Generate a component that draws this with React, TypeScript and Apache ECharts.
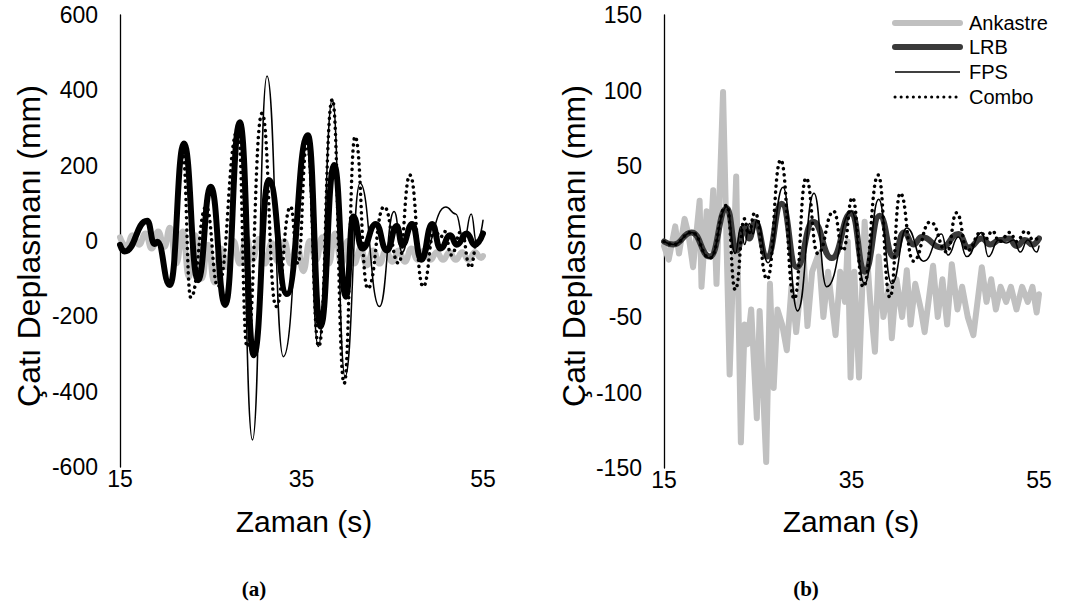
import React, { useEffect, useRef } from "react";
import * as echarts from "echarts";

// ---- Panel (a) data: [time (s), roof displacement (mm)] ----
const ankastreA: [number, number][] = [
  [15, 10], [15.7, -15], [16.4, 15], [17.1, -10], [17.8, 20], [18.5, -20], [19.2, 25], [19.9, -15],
  [20.5, 35], [21.2, -60], [21.9, 25], [22.6, -95], [23.3, 15], [24.0, -100], [24.7, -10], [25.4, -110],
  [26.1, -20], [26.8, -70], [27.5, 0], [28.2, -60], [28.9, 10], [29.6, -50], [30.3, 5], [31.0, -60],
  [31.7, -5], [32.4, -55], [33.1, 0], [33.8, -60], [34.5, -10], [35.2, -80], [35.9, 0], [36.6, -50],
  [37.3, 10], [38.0, -60], [38.7, 20], [39.4, -60], [40.1, 0], [40.8, -60], [41.5, -20], [42.2, -65],
  [42.9, -25], [43.6, -60], [44.3, -25], [45.0, -55], [45.7, -25], [46.4, -55], [47.1, -20], [47.8, -50],
  [48.5, -25], [49.2, -50], [49.9, -30], [50.6, -50], [51.3, -30], [52.0, -50], [52.7, -30], [53.4, -50],
  [54.1, -30], [54.8, -45], [55, -40],
];
const lrbA: [number, number][] = [
  [15, -10], [15.5, -28], [18.0, 54], [18.8, -8], [19.1, -2], [20.5, -117],
  [22.05, 259], [23.6, -104], [25.0, 144], [26.6, -170], [28.2, 315], [29.75, -303], [31.4, 162],
  [33.4, -141], [35.7, 281], [37.1, -227], [38.6, 202], [39.9, -148], [40.7, 65], [41.7, -20],
  [43.2, 45], [44.4, -25], [45.5, 40], [46.1, -10], [47.2, 45], [48.2, -50], [49.4, 45], [50.3, -20],
  [51.4, 15], [52.1, -10], [53.2, 20], [54.1, -10], [55, 20],
];
const fpsA: [number, number][] = [
  [15, -10], [15.5, -28], [18.0, 54], [18.8, -8], [19.1, -2], [20.5, -117],
  [22.05, 255], [23.6, -104], [25.0, 140], [26.6, -170], [28.1, 305], [29.6, -528], [31.2, 438],
  [33.0, -307], [35.5, 270], [36.85, -280], [38.4, 376], [39.8, -360], [41.45, 153], [43.6, -174],
  [45.2, 78], [46.1, -30], [47.1, 50], [48.2, -40], [50.9, 90], [52.0, 72], [52.9, 0], [53.7, 72],
  [54.3, -5], [55, 55],
];
const comboA: [number, number][] = [
  [15, -10], [15.5, -28], [18.0, 54], [18.8, -8], [19.1, -2], [20.5, -117],
  [21.9, 235], [22.8, -150], [24.5, 91], [25.8, -121], [28.0, 295], [29.0, -281], [30.65, 339],
  [32.2, -174], [33.8, 91], [34.6, -60], [35.6, 260], [36.9, -280], [38.4, 376], [39.7, -378],
  [40.9, 277], [42.3, -126], [44.1, 91], [45.7, -59], [46.95, 175], [48.4, -121], [49.7, 30],
  [50.3, 10], [50.8, 25], [51.5, -37], [52.6, 25], [53.6, -70], [54.4, 0], [55, 20],
];

// ---- Panel (b) data ----
const ankastreB: [number, number][] = [
  [15, -3], [15.5, -12], [16.2, 10], [16.6, -8], [17.2, 15], [17.6, 5], [18.1, -17], [18.8, 27],
  [19.0, -30], [19.55, 20], [19.9, -5], [20.25, 34], [20.6, -28], [21.3, 99], [22.0, -88], [22.7, 43],
  [23.2, -133], [23.6, -55], [23.9, -68], [24.3, -45], [24.9, -117], [25.2, -46], [25.9, -146],
  [26.3, -28], [26.7, -97], [27.1, -45], [27.6, -55], [28.1, -72], [28.6, -30], [29.1, -60],
  [29.9, -10], [30.3, -56], [30.8, -20], [31.5, -8], [32.0, -50], [32.5, -20], [33.3, -62],
  [33.8, -20], [34.3, -40], [34.6, 0], [34.9, -90], [35.3, -20], [35.8, -90], [36.4, 13], [37.0, -40],
  [37.5, -73], [37.9, -10], [38.4, -50], [39.0, -30], [39.3, -64], [39.8, -25], [40.4, -50],
  [40.9, -19], [41.3, -55], [41.8, -28], [42.4, -45], [42.8, -60], [43.7, -16], [44.2, -50],
  [44.7, -25], [45.2, -55], [45.7, -15], [46.3, -45], [46.8, -30], [47.4, -50], [48.0, -62],
  [48.9, -17], [49.4, -40], [49.9, -25], [50.4, -45], [50.9, -30], [51.5, -40], [52.0, -30],
  [52.6, -45], [53.2, -30], [53.8, -40], [54.3, -30], [54.75, -47], [55, -35],
];
const lrbB: [number, number][] = [
  [15, 0], [16, -2], [17.95, 6], [19.9, -10], [21.7, 22], [22.75, -6], [23.6, 9.5], [24.1, 2],
  [24.7, 13], [26.0, -10], [27.55, 25], [29.15, -17], [30.9, 13], [32.9, -11], [35.0, 19],
  [36.4, -20], [38.0, 17], [39.5, -10], [40.6, 6], [41.6, -2], [42.5, 3], [44.6, -4], [46.4, 5],
  [47.5, -4], [48.9, 2], [49.8, -2], [50.8, 1], [51.8, 2], [52.6, -3], [53.5, 1], [54.3, -2], [55, 2],
];
const fpsB: [number, number][] = [
  [15, 0], [16, -2], [17.95, 6], [19.9, -11], [21.7, 23], [22.6, -8], [23.2, 10], [23.6, -2],
  [24.1, 12], [24.5, 5], [24.9, 14], [26.1, -14], [27.7, 36], [29.25, -46], [31.0, 32], [32.35, -30],
  [35.0, 20], [36.4, -28], [37.9, 28], [39.3, -28], [40.9, 9], [42.7, -13], [44.6, 5], [45.3, -9],
  [46.4, 3], [47.3, -10], [48.9, 6], [49.6, -10], [50.7, 1], [51.5, -1], [52.3, 1], [53.0, -7],
  [53.8, 1], [54.75, -7], [55, -3],
];
const comboB: [number, number][] = [
  [15, 0], [16, -2], [17.95, 6], [19.9, -11], [21.7, 24], [22.6, -32], [23.6, 15], [24.0, 5],
  [24.7, 19], [26.0, -25], [27.45, 54], [28.9, -38], [30.15, 42], [31.4, -8], [33.1, 20], [34.1, -6],
  [35.1, 29], [36.25, -30], [37.85, 44], [39.1, -37], [40.2, 32], [41.6, -13], [43.4, 13],
  [45.2, -7], [46.2, 19], [47.4, -6], [48.8, 6], [49.4, 2], [50.0, 7], [50.8, 0], [51.9, 6],
  [52.6, 0], [53.6, 7], [54.4, 1], [55, 3],
];

const xTicks = { min: 15, max: 55, interval: 20 };
const yRangeA = { min: -600, max: 600, interval: 200 };
const yRangeB = { min: -150, max: 150, interval: 50 };
const legendNames = ["Ankastre", "LRB", "FPS", "Combo"];

const SANS = "'Liberation Sans', Arial, sans-serif";
const SERIF = "'Liberation Serif', 'Times New Roman', serif";

function lineSeries(data: [number, number][], idx: number, style: any, smooth: boolean, z: number) {
  return {
    type: "line",
    xAxisIndex: idx,
    yAxisIndex: idx,
    data,
    symbol: "none",
    showSymbol: false,
    smooth: smooth ? 0.5 : false,
    smoothMonotone: smooth ? "x" : undefined,
    lineStyle: { join: "round", cap: "round", ...style },
    z,
    silent: true,
  };
}

export default function App() {
  const ref = useRef<HTMLDivElement>(null);
  useEffect(() => {
    document.body.style.margin = "0";
    if (!ref.current) return;
    const chart = echarts.init(ref.current, null, { renderer: "svg" });
    const xAxis = (g: number) => ({
      gridIndex: g,
      type: "value",
      ...xTicks,
      axisLine: { show: false, onZero: false },
      axisTick: { show: false },
      splitLine: { show: false },
      axisLabel: { fontSize: 23, color: "#000", fontFamily: SANS, margin: 0 },
    });
    const yAxis = (g: number, r: any) => ({
      gridIndex: g,
      type: "value",
      ...r,
      axisLine: { show: true, onZero: false, lineStyle: { color: "#000", width: 1.3 } },
      axisTick: { show: false },
      splitLine: { show: false },
      axisLabel: { fontSize: 23, color: "#000", fontFamily: SANS, margin: 22 },
    });
    const gray = { color: "#c0c0c0", width: 6 };
    const dotted = { color: "#000", width: 3.5, type: [0.1, 6], cap: "round" };
    const legY = [23, 47, 72, 97];
    const legStyles = [
      { stroke: "#c0c0c0", lineWidth: 6, lineCap: "round" },
      { stroke: "#3a3a3a", lineWidth: 6, lineCap: "round" },
      { stroke: "#000", lineWidth: 1.5 },
      { stroke: "#000", lineWidth: 3, lineCap: "round", lineDash: [0.1, 6] },
    ];
    const legend = legendNames.flatMap((n, i) => [
      { type: "line", shape: { x1: 895, y1: legY[i], x2: 960, y2: legY[i] }, style: legStyles[i] },
      {
        type: "text",
        x: 969,
        y: legY[i],
        style: { text: n, fontSize: 20, fontFamily: SANS, fill: "#000", align: "left", verticalAlign: "middle" },
      },
    ]);
    const txt = (text: string, x: number, y: number, size: number, extra: any = {}) => ({
      type: "text",
      x,
      y,
      ...extra,
      style: { text, fontSize: size, fontFamily: SANS, fill: "#000", align: "center", verticalAlign: "middle" },
    });
    const caption = (text: string, x: number) => ({
      type: "text",
      x,
      y: 589,
      style: { text, fontSize: 21, fontWeight: "bold", fontFamily: SERIF, fill: "#000", align: "center", verticalAlign: "middle" },
    });
    chart.setOption({
      animation: false,
      grid: [
        { left: 120, top: 15, width: 363, height: 452 },
        { left: 664, top: 15, width: 375, height: 453 },
      ],
      xAxis: [xAxis(0), xAxis(1)],
      yAxis: [yAxis(0, yRangeA), yAxis(1, yRangeB)],
      series: [
        lineSeries(ankastreA, 0, gray, true, 1),
        lineSeries(lrbA, 0, { color: "#000", width: 6 }, true, 2),
        lineSeries(fpsA, 0, { color: "#000", width: 1.5 }, true, 3),
        lineSeries(comboA, 0, dotted, true, 4),
        lineSeries(ankastreB, 1, gray, false, 1),
        lineSeries(lrbB, 1, { color: "#3a3a3a", width: 6 }, true, 2),
        lineSeries(fpsB, 1, { color: "#000", width: 1.5 }, true, 3),
        lineSeries(comboB, 1, dotted, true, 4),
      ],
      graphic: [
        txt("Çatı Deplasmanı (mm)", 29, 246, 32, { rotation: Math.PI / 2 }),
        txt("Çatı Deplasmanı (mm)", 574, 246, 32, { rotation: Math.PI / 2 }),
        txt("Zaman (s)", 304, 521, 30),
        txt("Zaman (s)", 851, 521, 30),
        caption("(a)", 254),
        caption("(b)", 806),
        ...legend,
      ],
    });
    return () => chart.dispose();
  }, []);
  return <div ref={ref} style={{ width: 1071, height: 612 }} />;
}
